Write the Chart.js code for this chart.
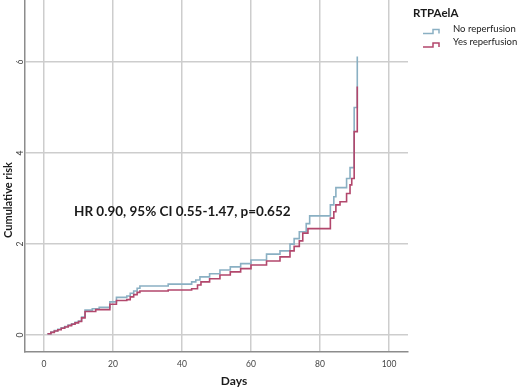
<!DOCTYPE html>
<html>
<head>
<meta charset="utf-8">
<script src="https://cdn.jsdelivr.net/npm/chart.js@4/dist/chart.umd.min.js"></script>
<style>
  html, body { margin: 0; padding: 0; background: #ffffff; }
  #wrap { position: relative; width: 520px; height: 389px; }
</style>
</head>
<body>
<div id="wrap"><canvas id="c"></canvas></div>
<script>
// ---- data ----
const xTicks = [0, 20, 40, 60, 80, 100];
const yTicks = [0, 2, 4, 6];
const seriesNames = ['No reperfusion', 'Yes reperfusion'];
const legendTitle = 'RTPAelA';
const xTitle = 'Days';
const yTitle = 'Cumulative risk';
const annotation = 'HR 0.90, 95% CI 0.55-1.47, p=0.652';

const noDays = [1, 2, 3, 4, 5, 6, 7, 8, 9, 10, 10.9, 11.9, 14, 16, 19.1, 21, 24, 25, 26, 27, 27.8,
  36, 42.8, 44, 45.2, 48, 51, 54, 57, 60, 64.5, 68.4, 71.3, 72.5, 74, 76, 77, 83, 84, 84.6,
  87.7, 88.7, 89.9, 90.8];
const noRisk = [0.03, 0.07, 0.10, 0.13, 0.16, 0.19, 0.22, 0.25, 0.28, 0.31, 0.40, 0.55, 0.58, 0.61, 0.73, 0.83, 0.86, 0.92, 0.97, 1.03, 1.08,
  1.12, 1.17, 1.21, 1.28, 1.35, 1.43, 1.50, 1.57, 1.65, 1.78, 1.85, 2.00, 2.12, 2.27, 2.45, 2.62, 2.86, 3.04, 3.24,
  3.44, 3.68, 5.00, 6.12];

const yesDays = [1, 2, 3, 4, 5, 6, 7, 8, 9, 10, 10.9, 11.9, 15, 19.1, 21, 24, 25, 26, 27, 27.8,
  36, 42.8, 44.5, 45.5, 48, 51, 54, 57, 60, 64.5, 68.4, 71.3, 72.5, 74, 75, 76.5, 83, 84, 84.6,
  85.8, 87.7, 88.7, 89.2, 89.9, 90.8];
const yesRisk = [0.03, 0.06, 0.09, 0.12, 0.15, 0.18, 0.21, 0.24, 0.27, 0.30, 0.38, 0.52, 0.56, 0.68, 0.76, 0.78, 0.84, 0.89, 0.94, 0.97,
  0.99, 1.02, 1.10, 1.17, 1.24, 1.32, 1.39, 1.46, 1.54, 1.63, 1.72, 1.85, 1.95, 2.07, 2.24, 2.34, 2.57, 2.71, 2.86,
  2.93, 3.11, 3.30, 3.44, 4.47, 5.46];

// ---- styles ----
const BLUE = '#8ab0c3';
const RED = '#b2476c';
const GRID = '#cdcdcd';
const AXIS = '#8c8c8c';
const FONT = 'Lato, "Open Sans", sans-serif';

const toPts = (xs, ys) => xs.map((d, i) => ({ x: d, y: ys[i] }));

const decor = {
  id: 'decor',
  afterDraw(chart) {
    const ctx = chart.ctx;
    const ys = chart.scales.y;
    ctx.save();
    // rotated y tick labels
    ctx.fillStyle = '#444';
    ctx.font = '8.5px ' + FONT;
    ctx.textAlign = 'center';
    ctx.textBaseline = 'middle';
    ys.ticks.forEach(t => {
      const py = ys.getPixelForValue(t.value);
      ctx.save();
      ctx.translate(20, py);
      ctx.rotate(-Math.PI / 2);
      ctx.fillText(String(t.value), 0, 0);
      ctx.restore();
    });
    // axis titles
    ctx.fillStyle = '#1a1a1a';
    ctx.font = 'bold 12px ' + FONT;
    ctx.textAlign = 'center';
    ctx.textBaseline = 'alphabetic';
    ctx.fillText(xTitle, 234, 385);
    ctx.font = 'bold 11px ' + FONT;
    ctx.save();
    ctx.translate(12, 200);
    ctx.rotate(-Math.PI / 2);
    ctx.fillText(yTitle, 0, 0);
    ctx.restore();
    // annotation
    ctx.font = 'bold 13.5px ' + FONT;
    ctx.textAlign = 'left';
    ctx.fillText(annotation, 74, 216);
    // legend
    ctx.font = 'bold 11.5px ' + FONT;
    ctx.fillText(legendTitle, 413, 17);
    const colors = [BLUE, RED];
    const rowY = [31.5, 45];
    ctx.font = '9.5px ' + FONT;
    ctx.textBaseline = 'middle';
    seriesNames.forEach((name, i) => {
      const y = rowY[i];
      ctx.strokeStyle = colors[i];
      ctx.lineWidth = 1.5;
      ctx.beginPath();
      ctx.moveTo(423, y + 2);
      ctx.lineTo(433, y + 2);
      ctx.lineTo(433, y - 2);
      ctx.lineTo(439, y - 2);
      ctx.lineTo(439, y + 2);
      ctx.stroke();
      ctx.fillStyle = '#1a1a1a';
      ctx.fillText(name, 453, y - 3);
    });
    ctx.restore();
  }
};

new Chart(document.getElementById('c'), {
  type: 'line',
  data: {
    datasets: [
      { label: seriesNames[0], data: toPts(noDays, noRisk), borderColor: BLUE, backgroundColor: BLUE,
        stepped: 'before', pointRadius: 0, borderWidth: 1.6, fill: false, order: 1 },
      { label: seriesNames[1], data: toPts(yesDays, yesRisk), borderColor: RED, backgroundColor: RED,
        stepped: 'before', pointRadius: 0, borderWidth: 1.6, fill: false, order: 0 }
    ]
  },
  options: {
    animation: false,
    responsive: true,
    maintainAspectRatio: false,
    layout: { padding: { left: 0, right: 112, top: 0, bottom: 0 } },
    plugins: { legend: { display: false }, tooltip: { enabled: false } },
    scales: {
      x: {
        type: 'linear', min: -5.5, max: 105.5,
        afterBuildTicks: s => { s.ticks = xTicks.map(v => ({ value: v })); },
        afterFit: s => { s.height = 37; },
        grid: { color: GRID, lineWidth: 1.5, drawTicks: false },
        border: { color: AXIS, width: 1.5 },
        ticks: { padding: 7, color: '#444', font: { family: FONT, size: 8.5 }, maxRotation: 0, autoSkip: false }
      },
      y: {
        type: 'linear', min: -0.37, max: 7.36,
        afterBuildTicks: s => { s.ticks = yTicks.map(v => ({ value: v })); },
        afterFit: s => { s.width = 25; },
        grid: { color: GRID, lineWidth: 1.5, drawTicks: false },
        border: { color: AXIS, width: 1.5 },
        ticks: { display: false }
      }
    }
  },
  plugins: [decor]
});
</script>
</body>
</html>
